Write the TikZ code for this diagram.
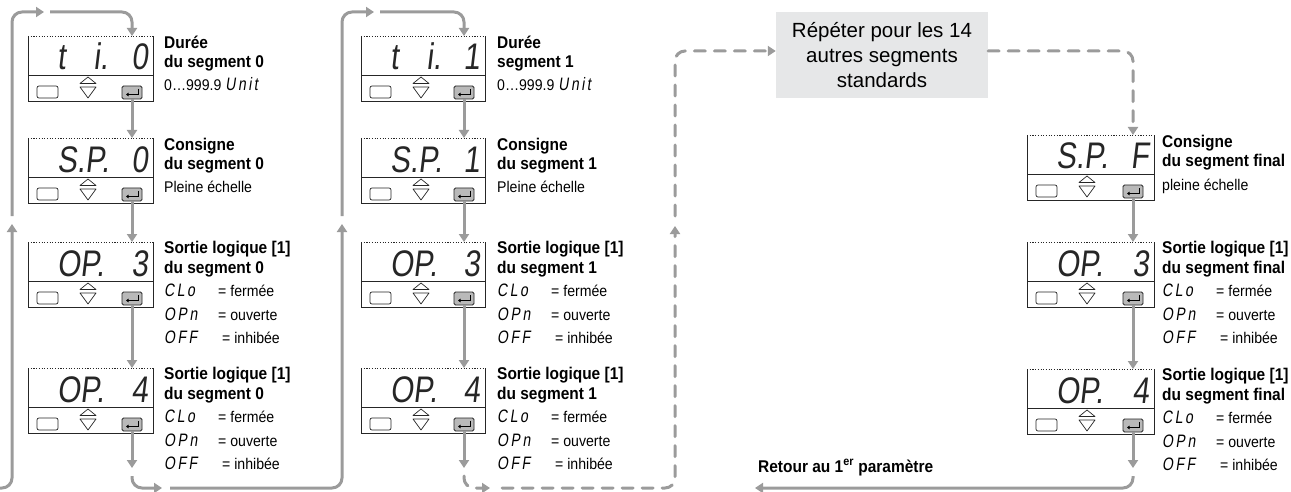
\documentclass[tikz,border=0pt]{standalone}
\usepackage{fontspec}
\setmainfont{Liberation Sans}
\newfontfamily\condf[FakeStretch=0.91]{Liberation Sans}
\newfontfamily\dispf[FakeStretch=0.8,FakeSlant=0.12]{Liberation Sans}
\newfontfamily\segf[LetterSpace=14,FakeSlant=0.15,FakeStretch=0.78]{Liberation Sans}
\usetikzlibrary{arrows.meta}
\definecolor{flowgray}{RGB}{155,155,155}
\definecolor{boxgray}{RGB}{230,231,232}
\newcommand\segtxt[1]{{\segf\fontsize{18}{18}\selectfont #1}}
\newcommand\optlines[3]{%
  \node[tr] (#1k1) at (#2,#3+54) {\segtxt{CLo}};
  \node[tr] (#1v1) at (#2+54,#3+54) {= fermée};
  \node[tr] (#1k2) at (#2,#3+78) {\segtxt{OPn}};
  \node[tr] (#1v2) at (#2+54,#3+78) {= ouverte};
  \node[tr] (#1k3) at (#2,#3+101) {\segtxt{OFF}};
  \node[tr] (#1v3) at (#2+58,#3+101) {= inhibée};
}
\tikzset{
  boxline/.style={draw=black!85,line width=0.9pt},
  dotline/.style={draw=black!85,line width=0.8pt,dash pattern=on 1.1pt off 1.6pt},
  btn/.style={draw=black!85,line width=0.7pt},
  entkey/.style={draw=black!85,fill=gray!55,line width=0.8pt,rounded corners=1.5pt},
  disp/.style={inner sep=0pt,text=black!85,font=\dispf\fontsize{37}{40}\selectfont},
  tb/.style={anchor=base west,inner sep=0pt,font=\condf\fontsize{17}{19}\selectfont\bfseries},
  tr/.style={anchor=base west,inner sep=0pt,font=\condf\fontsize{15.5}{18}\selectfont},
  flow/.style={draw=flowgray,line width=3pt,-{Triangle[width=10pt,length=8pt]}},
  flowd/.style={flow,line cap=round,dash pattern=on 11pt off 9pt},
  graybox/.style={fill=boxgray,minimum width=212pt,minimum height=86pt,inner sep=0pt,
    align=center,font=\fontsize{20.5}{25}\selectfont},
  pics/dev/.style n args={3}{code={
    \fill[white] (0,0) rectangle (#1,65);
    \draw[dotline] (0,0) -- (#1,0);
    \draw[boxline] (0,0) -- (0,65) -- (#1,65) -- (#1,0);
    \draw[boxline] (0,39) -- (#1,39);
    \draw[btn,rounded corners=2pt] (9,50) rectangle (30,62);
    \draw[btn,line join=round] (60,41) -- (68,47.5) -- (52,47.5) -- cycle;
    \draw[btn,line join=round] (52,51) -- (68,51) -- (60,62) -- cycle;
    \draw[entkey] (#1-31,50) rectangle (#1-11,63);
    \draw[black,line width=0.8pt,-{Triangle[width=3.5pt,length=2.5pt]}] (#1-15,53) -- (#1-15,58.5) -- (#1-27,58.5);
    \node[disp,anchor=base west] (-l) at (29,34) {#2};
    \node[disp,anchor=base east] (-r) at (#1-5,34) {#3};
    \coordinate (-ent) at (#1-21,63);
    \coordinate (-in) at (#1-21,0);
  }}
}
\begin{document}
\begin{tikzpicture}[x=1pt,y=-1pt]
\useasboundingbox (0,0) rectangle (1291,492);
% ---------- column 1 ----------
\pic (a1) at (28,36) {dev={125}{t\hspace{28pt}i.}{0}};
\pic (a2) at (28,138) {dev={125}{S.P.}{0}};
\pic (a3) at (28,242) {dev={125}{OP.}{3}};
\pic (a4) at (28,368) {dev={125}{OP.}{4}};
\node[tb] (a1t1) at (164,49) {Durée};
\node[tb] (a1t2) at (164,68) {du segment 0};
\node[tr] (a1d) at (164,91) {0…999.9 \segtxt{Unit}};
\node[tb] (a2t1) at (164,151) {Consigne};
\node[tb] (a2t2) at (164,170) {du segment 0};
\node[tr] (a2d) at (164,193) {Pleine échelle};
\node[tb] (a3t1) at (164,253) {Sortie logique [1]};
\node[tb] (a3t2) at (164,273) {du segment 0};
\optlines{a3}{164}{242}
\node[tb] (a4t1) at (164,379) {Sortie logique [1]};
\node[tb] (a4t2) at (164,399) {du segment 0};
\optlines{a4}{164}{368}
% ---------- column 2 ----------
\pic (b1) at (361,36) {dev={124}{t\hspace{28pt}i.}{1}};
\pic (b2) at (361,138) {dev={124}{S.P.}{1}};
\pic (b3) at (361,242) {dev={124}{OP.}{3}};
\pic (b4) at (361,368) {dev={124}{OP.}{4}};
\node[tb] (b1t1) at (497,49) {Durée};
\node[tb] (b1t2) at (497,68) {segment 1};
\node[tr] (b1d) at (497,91) {0…999.9 \segtxt{Unit}};
\node[tb] (b2t1) at (497,151) {Consigne};
\node[tb] (b2t2) at (497,170) {du segment 1};
\node[tr] (b2d) at (497,193) {Pleine échelle};
\node[tb] (b3t1) at (497,253) {Sortie logique [1]};
\node[tb] (b3t2) at (497,273) {du segment 1};
\optlines{b3}{497}{242}
\node[tb] (b4t1) at (497,379) {Sortie logique [1]};
\node[tb] (b4t2) at (497,399) {du segment 1};
\optlines{b4}{497}{368}
% ---------- column 3 ----------
\pic (f1) at (1027,135) {dev={127}{S.P.}{F}};
\pic (f2) at (1027,242) {dev={127}{OP.}{3}};
\pic (f3) at (1027,369) {dev={127}{OP.}{4}};
\node[tb] (f1t1) at (1162,148) {Consigne};
\node[tb] (f1t2) at (1162,167) {du segment final};
\node[tr] (f1d) at (1162,190) {pleine échelle};
\node[tb] (f2t1) at (1162,253) {Sortie logique [1]};
\node[tb] (f2t2) at (1162,273) {du segment final};
\optlines{f2}{1162}{242}
\node[tb] (f3t1) at (1162,380) {Sortie logique [1]};
\node[tb] (f3t2) at (1162,400) {du segment final};
\optlines{f3}{1162}{369}
% ---------- repeat box ----------
\node[graybox] (rep) at (882,55) {Répéter pour les 14\\autres segments\\standards};
\node[tb] (ret) at (758,472) {Retour au 1\textsuperscript{er} paramètre};
% ---------- coordinates ----------
\coordinate (p1s) at (0,488);   \coordinate (p1e) at (12,224);
\coordinate (p2s) at (12,216);  \coordinate (p2e) at (44,12);
\coordinate (p3s) at (50,12);
\coordinate (a4d) at (132,468); \coordinate (p5s) at (132,476); \coordinate (p5e) at (162,488);
\coordinate (p6s) at (170,488); \coordinate (p6e) at (342,224);
\coordinate (p7s) at (342,216); \coordinate (p7e) at (374,12);
\coordinate (p8s) at (380,12);
\coordinate (b4d) at (464,468); \coordinate (p9s) at (464,476); \coordinate (p9e) at (490,488);
\coordinate (p10s) at (502,488); \coordinate (p10e) at (675,226);
\coordinate (p11s) at (675,216);
\coordinate (f3d) at (1133,468); \coordinate (p13s) at (1133,476); \coordinate (p13e) at (755,488);
% ---------- connectors ----------
\draw[flow] (a1-ent) -- (a2-in);
\draw[flow] (a2-ent) -- (a3-in);
\draw[flow] (a3-ent) -- (a4-in);
\draw[flow] (a4-ent) -- (a4d);
\draw[flow] (b1-ent) -- (b2-in);
\draw[flow] (b2-ent) -- (b3-in);
\draw[flow] (b3-ent) -- (b4-in);
\draw[flow] (b4-ent) -- (b4d);
\draw[flow] (f1-ent) -- (f2-in);
\draw[flow] (f2-ent) -- (f3-in);
\draw[flow] (f3-ent) -- (f3d);
\draw[flow,rounded corners=10pt] (p1s) -| (p1e);
\draw[flow,rounded corners=10pt] (p2s) |- (p2e);
\draw[flow,rounded corners=10pt] (p3s) -| (a1-in);
\draw[flow,rounded corners=10pt] (p5s) |- (p5e);
\draw[flow,rounded corners=10pt] (p6s) -| (p6e);
\draw[flow,rounded corners=10pt] (p7s) |- (p7e);
\draw[flow,rounded corners=10pt] (p8s) -| (b1-in);
\draw[flowd,rounded corners=10pt] (p9s) |- (p9e);
\draw[flowd,rounded corners=10pt] (p10s) -| (p10e);
\draw[flowd,rounded corners=10pt] (p11s) |- ([yshift=4pt]rep.west);
\draw[flowd,rounded corners=10pt] ([yshift=4pt]rep.east) -| (f1-in);
\draw[flow,rounded corners=10pt] (p13s) |- (p13e);
\end{tikzpicture}
\end{document}
